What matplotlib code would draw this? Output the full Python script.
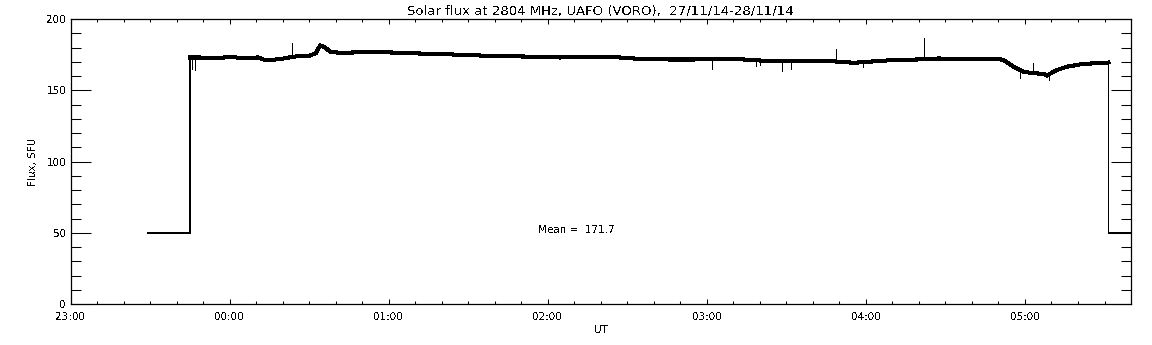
import matplotlib
matplotlib.use('Agg')
import matplotlib.pyplot as plt

# Solar flux record, minutes after 23:00 UT, flux in SFU
trend_min = [29.2, 45.2, 45.2, 48.8, 54.4, 60.1, 65.7, 70.6, 73.3, 77.0, 80.8, 84.0,
             86.4, 90.2, 92.5, 94.2, 95.9, 98.1, 101.5, 109.0, 116.6, 124.1, 131.6,
             139.2, 150.5, 161.8, 173.1, 184.4, 194.9, 205.1, 214.5, 225.8, 235.2,
             252.2, 263.5, 278.5, 286.0, 295.5, 304.9, 312.4, 318.1, 327.5, 335.0,
             350.1, 352.0, 355.7, 359.5, 363.0, 367.1, 368.2, 372.0, 375.7, 381.0,
             385.9, 390.8, 391.5, 391.5, 400.0]
trend_flux = [50, 50, 173, 173, 172.5, 173.3, 172.6, 173, 171.3, 171.5, 172.4, 173.5,
              174, 174.3, 176, 181.5, 180, 177, 176.3, 176.6, 176.8, 176.3, 175.8,
              175.5, 174.6, 174, 173.6, 173, 173.2, 173.3, 172, 171.6, 171.6,
              171.8, 170.5, 170.8, 170.5, 169.3, 170.5, 171.5, 171.5, 172.3, 172,
              172, 171, 166.5, 163, 162, 161.5, 160.3, 164.2, 166.5, 168.2,
              168.9, 169.3, 169.5, 50, 50]

# short spikes: time, base level, tip
spike_min = [45.8, 46.9, 83.5, 241.9, 258.6, 260.0, 268.3, 271.6, 288.8, 298.9,
             321.8, 358.3, 363.1, 369.0]
spike_base = [173, 173, 173, 172, 171, 170.5, 170.5, 170.5, 170.5, 169,
              172, 163, 162, 160.5]
spike_tip = [165, 164, 183, 165, 167, 167.5, 163.5, 165, 179, 166,
             186.5, 158.5, 169, 157]

tick_min = [0, 60, 120, 180, 240, 300, 360]
tick_labels = ['23:00', '00:00', '01:00', '02:00', '03:00', '04:00', '05:00']
mean_flux = 171.7

plt.rcParams['text.antialiased'] = False

fig = plt.figure(figsize=(11.52, 3.45), dpi=100)
ax = fig.add_axes([0.0612, 0.1188, 0.9206, 0.8261])

ax.plot(trend_min, trend_flux, color='black', lw=0.6, antialiased=False)
ax.plot(trend_min[2:-2], trend_flux[2:-2], color='black', lw=2.2,
        solid_joinstyle='miter', antialiased=False)
ax.vlines(spike_min, spike_base, spike_tip, color='black', lw=0.6, antialiased=False)

ax.text(176.5, 51.9, 'Mean =  %.1f' % mean_flux, fontsize=7.5, ha='left', va='center')

ax.set_xlim(0, 400)
ax.set_ylim(0, 200)
ax.set_xticks(tick_min)
ax.set_xticklabels(tick_labels)
ax.set_xticks(range(0, 401, 10), minor=True)
ax.set_yticks([0, 50, 100, 150, 200])
ax.set_yticks(range(0, 201, 10), minor=True)

ax.tick_params(axis='y', which='major', direction='in', length=14.4, width=0.75,
               left=True, right=True, labelsize=7.5, pad=3)
ax.tick_params(axis='y', which='minor', direction='in', length=7.2, width=0.75,
               left=True, right=True)
ax.tick_params(axis='x', which='major', direction='in', length=3.6, width=0.75,
               top=True, bottom=True, labelsize=7.5, pad=6)
ax.tick_params(axis='x', which='minor', direction='in', length=2.0, width=0.75,
               top=True, bottom=True)
for s in ax.spines.values():
    s.set_linewidth(0.9)

ax.set_xlabel('UT', fontsize=7.5, labelpad=2)
ax.set_ylabel('Flux, SFU', fontsize=7.5, labelpad=6)
ax.set_title('Solar flux at 2804 MHz, UAFO (VORO),  27/11/14-28/11/14',
             fontsize=9.5, pad=3)

fig.savefig('out.png', dpi=100)
